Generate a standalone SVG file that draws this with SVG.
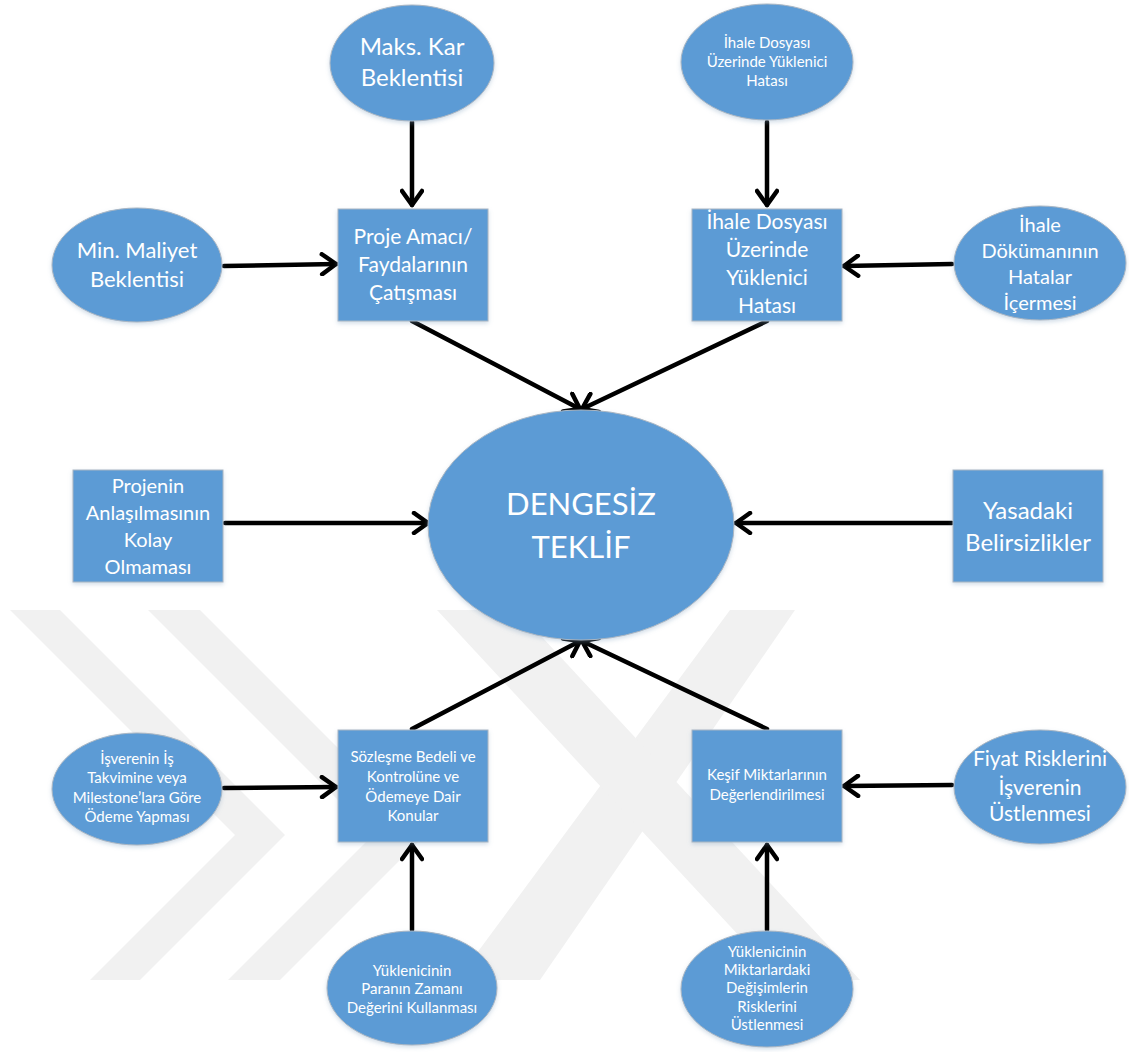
<svg xmlns="http://www.w3.org/2000/svg" width="1129" height="1052" viewBox="0 0 1129 1052">
  <style>
    .node { fill: #5b9bd5; stroke: #aab6c3; stroke-width: 1; filter: url(#shadow); }
    .lbl { fill: #ffffff; font-family: Lato, "Noto Sans", "Liberation Sans", sans-serif; text-anchor: middle; }
    .edge { stroke: #000000; stroke-width: 4.5; fill: none; stroke-linecap: round; marker-end: url(#head); }
    .wm { fill: #f1f1f1; }
  </style>
  <defs>
    <filter id="shadow" x="-10%" y="-10%" width="120%" height="130%">
      <feDropShadow dx="0" dy="2" stdDeviation="2" flood-color="#7f9fbf" flood-opacity="0.35"/>
    </filter>
    <marker id="head" viewBox="-18 -12 22 24" markerWidth="22" markerHeight="24" refX="0" refY="0" orient="auto" markerUnits="userSpaceOnUse">
      <path d="M-14,-10 L0,0 L-14,10" fill="none" stroke="#000" stroke-width="4.5" stroke-linecap="round" stroke-linejoin="round"/>
    </marker>
    <clipPath id="page"><rect x="0" y="600" width="1129" height="400"/></clipPath>
  </defs>

  <rect width="1129" height="1052" fill="#ffffff"/>

  <!-- faint background watermark bands -->
  <g id="watermark" clip-path="url(#page)">
    <polygon class="wm" points="10,610 60,610 285,835 140,980 90,980 235,835"/>
    <polygon class="wm" points="148,610 200,610 425,835 280,980 228,980 373,835"/>
    <polygon class="wm" points="457,980 540,980 795,610 730,610"/>
    <polygon class="wm" points="437,610 517,610 860,980 780,980"/>
  </g>

  <g id="connectors">
    <line class="edge" x1="412" y1="122" x2="412" y2="205"/>
    <line class="edge" x1="767" y1="122" x2="767" y2="205"/>
    <line class="edge" x1="224" y1="266" x2="336" y2="264"/>
    <line class="edge" x1="952" y1="264" x2="844" y2="266"/>
    <line class="edge" x1="412" y1="321" x2="580" y2="409"/>
    <line class="edge" x1="767" y1="321" x2="582" y2="409"/>
    <line class="edge" x1="225" y1="523" x2="428" y2="523"/>
    <line class="edge" x1="952" y1="523" x2="736" y2="523"/>
    <line class="edge" x1="412" y1="729" x2="580" y2="641"/>
    <line class="edge" x1="767" y1="729" x2="582" y2="641"/>
    <line class="edge" x1="224" y1="788" x2="336" y2="787"/>
    <line class="edge" x1="952" y1="785" x2="844" y2="786"/>
    <line class="edge" x1="412" y1="930" x2="412" y2="845"/>
    <line class="edge" x1="767" y1="930" x2="767" y2="845"/>
  </g>

  <g id="maks-kar">
    <ellipse class="node" cx="412" cy="63" rx="82" ry="58"/>
    <text class="lbl" x="412" y="55" font-size="24">Maks. Kar</text>
    <text class="lbl" x="412" y="86" font-size="24">Beklentisi</text>
  </g>

  <g id="ihale-hata-oval">
    <ellipse class="node" cx="767" cy="62" rx="86" ry="58"/>
    <text class="lbl" x="767" y="48" font-size="15">İhale Dosyası</text>
    <text class="lbl" x="767" y="67" font-size="15">Üzerinde Yüklenici</text>
    <text class="lbl" x="767" y="86" font-size="15">Hatası</text>
  </g>

  <g id="min-maliyet">
    <ellipse class="node" cx="137" cy="265" rx="85" ry="57"/>
    <text class="lbl" x="137" y="258" font-size="22">Min. Maliyet</text>
    <text class="lbl" x="137" y="287" font-size="22">Beklentisi</text>
  </g>

  <g id="proje-amaci">
    <rect class="node" x="338" y="209" width="150" height="112"/>
    <text class="lbl" x="413" y="244" font-size="21">Proje Amacı/</text>
    <text class="lbl" x="413" y="272" font-size="21">Faydalarının</text>
    <text class="lbl" x="413" y="300" font-size="21">Çatışması</text>
  </g>

  <g id="ihale-hata-box">
    <rect class="node" x="692" y="209" width="150" height="112"/>
    <text class="lbl" x="767" y="229" font-size="21">İhale Dosyası</text>
    <text class="lbl" x="767" y="257" font-size="21">Üzerinde</text>
    <text class="lbl" x="767" y="285" font-size="21">Yüklenici</text>
    <text class="lbl" x="767" y="313" font-size="21">Hatası</text>
  </g>

  <g id="ihale-dokuman">
    <ellipse class="node" cx="1040" cy="263" rx="86" ry="57"/>
    <text class="lbl" x="1040" y="232" font-size="20">İhale</text>
    <text class="lbl" x="1040" y="258" font-size="20">Dökümanının</text>
    <text class="lbl" x="1040" y="284" font-size="20">Hatalar</text>
    <text class="lbl" x="1040" y="310" font-size="20">İçermesi</text>
  </g>

  <g id="dengesiz-teklif">
    <ellipse class="node" cx="581" cy="525" rx="153" ry="115"/>
    <text class="lbl" x="581" y="515" font-size="31">DENGESİZ</text>
    <text class="lbl" x="581" y="558" font-size="31">TEKLİF</text>
  </g>

  <g id="projenin-anlasilmasi">
    <rect class="node" x="73" y="470" width="150" height="112"/>
    <text class="lbl" x="148" y="493" font-size="20">Projenin</text>
    <text class="lbl" x="148" y="520" font-size="20">Anlaşılmasının</text>
    <text class="lbl" x="148" y="547" font-size="20">Kolay</text>
    <text class="lbl" x="148" y="574" font-size="20">Olmaması</text>
  </g>

  <g id="yasadaki-belirsizlikler">
    <rect class="node" x="953" y="470" width="150" height="112"/>
    <text class="lbl" x="1028" y="519" font-size="24">Yasadaki</text>
    <text class="lbl" x="1028" y="551" font-size="24">Belirsizlikler</text>
  </g>

  <g id="sozlesme-bedeli">
    <rect class="node" x="338" y="730" width="150" height="112"/>
    <text class="lbl" x="413" y="762" font-size="15">Sözleşme Bedeli ve</text>
    <text class="lbl" x="413" y="782" font-size="15">Kontrolüne ve</text>
    <text class="lbl" x="413" y="802" font-size="15">Ödemeye Dair</text>
    <text class="lbl" x="413" y="821" font-size="15">Konular</text>
  </g>

  <g id="kesif-miktarlari">
    <rect class="node" x="692" y="730" width="150" height="112"/>
    <text class="lbl" x="767" y="780" font-size="15">Keşif Miktarlarının</text>
    <text class="lbl" x="767" y="800" font-size="15">Değerlendirilmesi</text>
  </g>

  <g id="isveren-odeme">
    <ellipse class="node" cx="137" cy="789" rx="85" ry="56"/>
    <text class="lbl" x="137" y="764" font-size="15">İşverenin İş</text>
    <text class="lbl" x="137" y="783" font-size="15">Takvimine veya</text>
    <text class="lbl" x="137" y="803" font-size="15">Milestone’lara Göre</text>
    <text class="lbl" x="137" y="822" font-size="15">Ödeme Yapması</text>
  </g>

  <g id="fiyat-riskleri">
    <ellipse class="node" cx="1040" cy="787" rx="86" ry="57"/>
    <text class="lbl" x="1040" y="766" font-size="21">Fiyat Risklerini</text>
    <text class="lbl" x="1040" y="795" font-size="21">İşverenin</text>
    <text class="lbl" x="1040" y="821" font-size="21">Üstlenmesi</text>
  </g>

  <g id="paranin-zaman-degeri">
    <ellipse class="node" cx="412" cy="988" rx="85" ry="57"/>
    <text class="lbl" x="412" y="976" font-size="15">Yüklenicinin</text>
    <text class="lbl" x="412" y="994" font-size="15">Paranın Zamanı</text>
    <text class="lbl" x="412" y="1013" font-size="15">Değerini Kullanması</text>
  </g>

  <g id="miktar-degisim-riskleri">
    <ellipse class="node" cx="767" cy="989" rx="86" ry="58"/>
    <text class="lbl" x="767" y="957" font-size="15">Yüklenicinin</text>
    <text class="lbl" x="767" y="975" font-size="15">Miktarlardaki</text>
    <text class="lbl" x="767" y="993" font-size="15">Değişimlerin</text>
    <text class="lbl" x="767" y="1012" font-size="15">Risklerini</text>
    <text class="lbl" x="767" y="1030" font-size="15">Üstlenmesi</text>
  </g>
</svg>
